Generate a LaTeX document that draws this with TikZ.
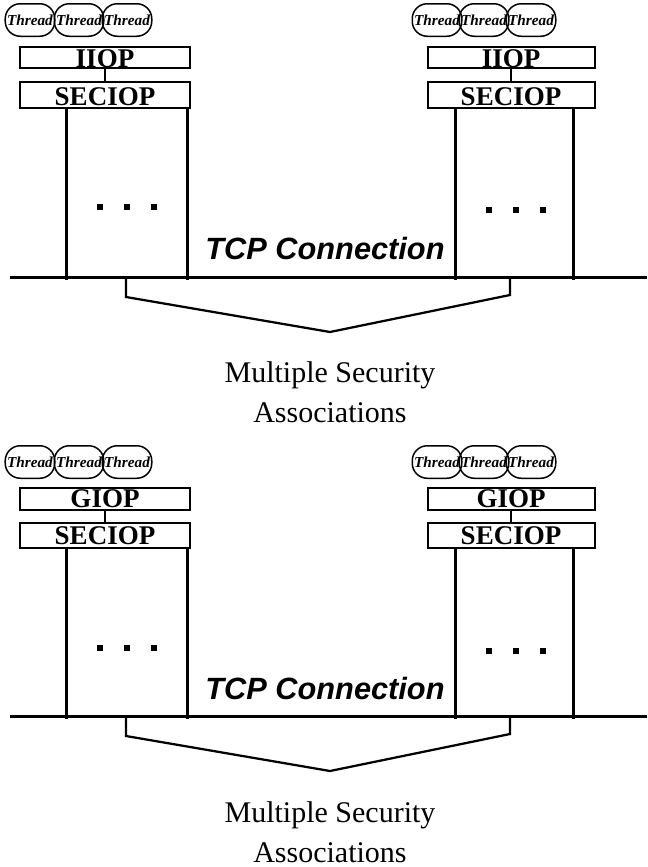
\documentclass[tikz,border=0pt]{standalone}
\usepackage{fontspec}
\setmainfont{Liberation Serif}
\setsansfont{Liberation Sans}
\usetikzlibrary{positioning}

\begin{document}
\begin{tikzpicture}[
    x=0.4pt, y=-0.4pt,
    thread/.style={draw, line width=0.6pt, rounded corners=6pt, minimum width=19.8pt,
                   minimum height=13pt, inner sep=0.2pt,
                   font=\bfseries\itshape\fontsize{6.1}{6.5}\selectfont},
    proto/.style={draw, line width=0.8pt, inner sep=0pt,
                  font=\bfseries\fontsize{10.8}{12}\selectfont},
    sunk/.style={text height=8.4pt, text depth=-2pt},
    wire/.style={line width=1.2pt},
    link/.style={line width=0.6pt},
    brace/.style={line width=0.9pt},
    dot/.style={fill, minimum size=2.4pt, inner sep=0pt},
    tcp/.style={font=\sffamily\bfseries\itshape\fontsize{12.3}{14}\selectfont},
    note/.style={align=center, font=\fontsize{12}{16}\selectfont},
  ]
  \useasboundingbox (0,0) rectangle (647,867);

  % upper picture: IIOP over SECIOP
  \foreach \x [count=\i] in {30,79,127}
    \node[thread] (thA\i) at (\x,20) {Thread};
  \foreach \x [count=\i] in {437,484,531}
    \node[thread] (thB\i) at (\x,20) {Thread};

  \node[proto, sunk, minimum width=68pt, minimum height=8.4pt]  (iiopA) at (105,57) {IIOP};
  \node[proto, sunk, minimum width=68pt, minimum height=10.4pt] (secA)  at (105,95) {SECIOP};
  \node[proto, sunk, minimum width=66.8pt, minimum height=8.4pt]  (iiopB) at (511,57) {IIOP};
  \node[proto, sunk, minimum width=66.8pt, minimum height=10.4pt] (secB)  at (511,95) {SECIOP};
  \draw[link] (iiopA) -- (secA);
  \draw[link] (iiopB) -- (secB);

  \coordinate (busA1) at (10,277);
  \coordinate (busA2) at (647,277);
  \draw[wire] (busA1) -- (busA2);
  \foreach \x [count=\i] in {66,187} {
    \coordinate (vA\i) at (\x,280);
    \draw[wire] (secA.south -| vA\i) -- (vA\i);
  }
  \foreach \x [count=\i] in {455,573} {
    \coordinate (vB\i) at (\x,280);
    \draw[wire] (secB.south -| vB\i) -- (vB\i);
  }
  \foreach \x [count=\i] in {100,127,154}
    \node[dot] (dA\i) at (\x,207) {};
  \foreach \x [count=\i] in {489,516,543}
    \node[dot] (dB\i) at (\x,210) {};

  \node[tcp] (tcpA) at (325,249) {TCP Connection};

  \coordinate (brA1) at (126,279);
  \coordinate (kneeA1) at (126,297);
  \coordinate (apexA) at (330,332);
  \coordinate (kneeA2) at (510,295);
  \coordinate (brA2) at (510,279);
  \draw[brace] (brA1) -- (kneeA1) -- (apexA) -- (kneeA2) -- (brA2);
  \node[note] (msaA) at (330,392) {Multiple Security\\Associations};

  % lower picture: GIOP over SECIOP
  \foreach \x [count=\i] in {30,79,127}
    \node[thread] (thC\i) at (\x,462) {Thread};
  \foreach \x [count=\i] in {437,484,531}
    \node[thread] (thD\i) at (\x,462) {Thread};

  \node[proto, minimum width=68pt, minimum height=8.8pt]  (giopC) at (105,499) {GIOP};
  \node[proto, minimum width=68pt, minimum height=10pt]   (secC)  at (105,535.5) {SECIOP};
  \node[proto, minimum width=66.8pt, minimum height=8.8pt] (giopD) at (511,499) {GIOP};
  \node[proto, minimum width=66.8pt, minimum height=10pt]  (secD)  at (511,535.5) {SECIOP};
  \draw[link] (giopC) -- (secC);
  \draw[link] (giopD) -- (secD);

  \coordinate (busC1) at (10,716);
  \coordinate (busC2) at (647,716);
  \draw[wire] (busC1) -- (busC2);
  \foreach \x [count=\i] in {66,187} {
    \coordinate (vC\i) at (\x,719);
    \draw[wire] (secC.south -| vC\i) -- (vC\i);
  }
  \foreach \x [count=\i] in {455,573} {
    \coordinate (vD\i) at (\x,719);
    \draw[wire] (secD.south -| vD\i) -- (vD\i);
  }
  \foreach \x [count=\i] in {100,127,154}
    \node[dot] (dC\i) at (\x,648) {};
  \foreach \x [count=\i] in {489,516,543}
    \node[dot] (dD\i) at (\x,651) {};

  \node[tcp] (tcpC) at (325,688) {TCP Connection};

  \coordinate (brC1) at (126,718);
  \coordinate (kneeC1) at (126,736);
  \coordinate (apexC) at (330,771);
  \coordinate (kneeC2) at (510,734);
  \coordinate (brC2) at (510,718);
  \draw[brace] (brC1) -- (kneeC1) -- (apexC) -- (kneeC2) -- (brC2);
  \node[note] (msaC) at (330,832) {Multiple Security\\Associations};
\end{tikzpicture}
\end{document}
